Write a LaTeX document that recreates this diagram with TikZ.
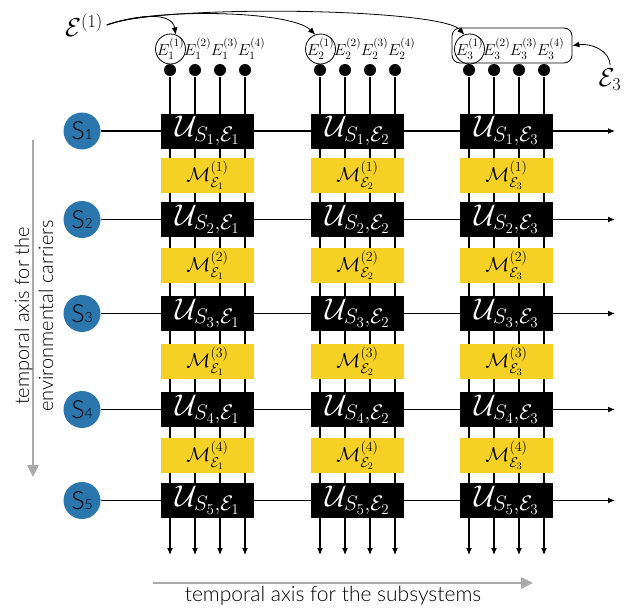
\RequirePackage{fix-cm}
\documentclass[tikz,border=0pt]{standalone}
\usepackage{amsmath}
\usepackage{amssymb}
\usepackage{fontspec}
\setsansfont{Lato Light}
\usetikzlibrary{arrows.meta}

\definecolor{sysblue}{RGB}{44,118,174}
\definecolor{measyellow}{RGB}{245,209,38}
\definecolor{axisgray}{RGB}{170,170,170}

\tikzset{
  >={Latex[length=7pt,width=6pt]},
  ubox/.style={fill=black, text=white, minimum width=93pt, minimum height=35pt, inner sep=0pt, font=\fontsize{30}{30}\selectfont},
  mbox/.style={fill=measyellow, minimum width=93pt, minimum height=35pt, inner sep=0pt, font=\fontsize{20}{20}\selectfont},
  sys/.style={circle, fill=sysblue, minimum size=37pt, inner sep=0pt, font=\sffamily},
  carrier/.style={circle, fill=black, minimum size=12pt, inner sep=0pt},
  elabel/.style={inner sep=0pt, font=\fontsize{16}{16}\selectfont},
  axis/.style={axisgray, line width=2.5pt, -{Triangle[length=12pt,width=11pt]}},
  axislabel/.style={font=\sffamily\fontsize{20}{24}\selectfont, align=center},
}

\begin{document}
\begin{tikzpicture}[x=1pt, y=-1pt, line width=1.2pt]
\useasboundingbox (0,0) rectangle (628,608);

\foreach \r/\y in {1/131,2/219.5,3/313.5,4/409.5,5/500.5}{
  \node[sys] (s\r) at (82,\y) {{\fontsize{25}{25}\selectfont S}{\fontsize{14}{14}\selectfont\r}};
  \coordinate (e\r) at (615,\y);
  \draw[->] (s\r) -- (e\r);
}

\foreach \c/\x in {1/207.5,2/357.5,3/506.5}{
  \foreach \k in {1,...,4}{
    \node[carrier] (d\c\k) at ({\x-62.5+25*\k},70) {};
    \coordinate (b\c\k) at ({\x-62.5+25*\k},555);
    \draw[->] (d\c\k) -- (b\c\k);
    \node[elabel] (E\c\k) at ({\x-64+27*\k},49) {$E_\c^{(\k)}$};
  }
  \node[draw, circle, minimum size=30pt, inner sep=0pt, line width=0.8pt] (c\c) at (E\c1) {};
  \foreach \r/\y in {1/131,2/219.5,3/313.5,4/409.5,5/500.5}
    \node[ubox] (u\r\c) at (\x,\y) {$\mathcal{U}_{S_\r,\mathcal{E}_\c}$};
  \foreach \r/\y in {1/175.5,2/265.5,3/361.5,4/455.5}
    \node[mbox] (m\r\c) at (\x,\y) {$\mathcal{M}^{(\r)}_{\mathcal{E}_\c}$};
}

\node[draw, rounded corners=8pt, minimum width=120pt, minimum height=35pt, line width=0.8pt] (grp) at (512,45.5) {};

\node[font=\fontsize{26}{26}\selectfont] (calE) at (84,25) {$\mathcal{E}^{(1)}$};
\node[font=\fontsize{26}{26}\selectfont] (calE3) at (610,80) {$\mathcal{E}_3$};

\draw[->, line width=0.8pt] (calE.east) .. controls (140,14) and (172,12) .. (c1.70);
\draw[->, line width=0.8pt] (calE.east) .. controls (150,8) and (290,10) .. (c2.110);
\draw[->, line width=0.8pt] (calE.east) .. controls (160,4) and (440,8) .. (c3.110);
\draw[->, line width=0.8pt] (calE3.north) .. controls (610,50) and (590,43) .. (grp.east);

\coordinate (vtop) at (33,140);
\coordinate (vbot) at (33,477);
\draw[axis] (vtop) -- (vbot);
\node[axislabel, rotate=90] (vlab) at (34,316) {temporal axis for the\\environmental carriers};

\coordinate (hleft) at (153,583);
\coordinate (hright) at (533,583);
\draw[axis] (hleft) -- (hright);
\node[axislabel, font=\sffamily\fontsize{21}{24}\selectfont] (hlab) at (333,596) {temporal axis for the subsystems};
\end{tikzpicture}
\end{document}
